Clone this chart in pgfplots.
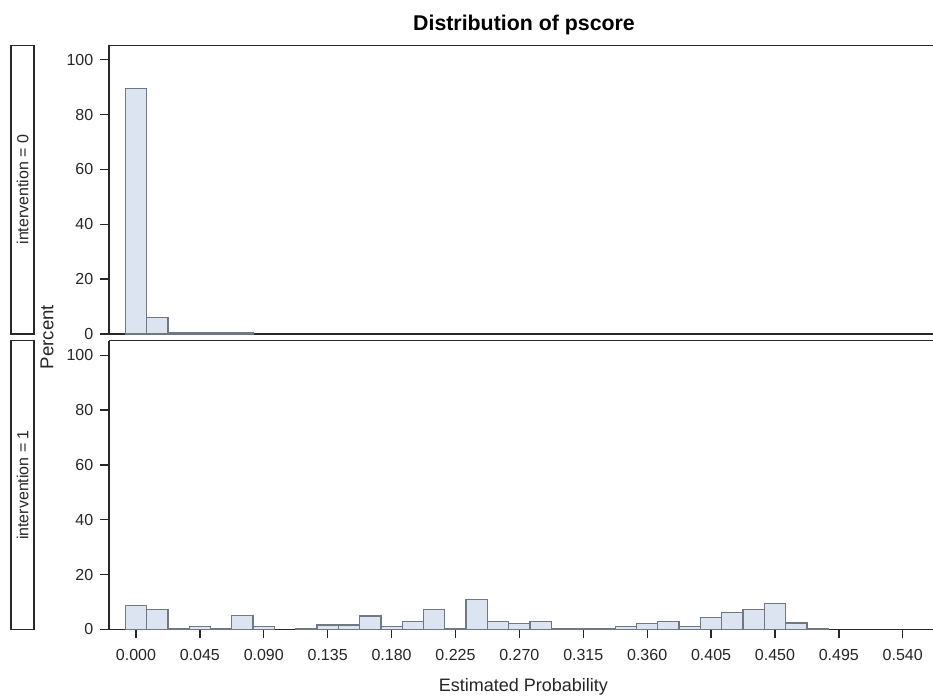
\documentclass[border=0pt]{standalone}
\usepackage{pgfplots}
\pgfplotsset{compat=1.18}
\usepackage{fontspec}
\setmainfont{Liberation Sans}
\definecolor{barfill}{RGB}{219,228,240}
\definecolor{baredge}{RGB}{112,120,130}
\definecolor{axcol}{RGB}{40,40,40}
\pgfplotsset{
  panel/.style={
    scale only axis,
    width=618pt, height=216.6pt,
    anchor=south west,
    xmin=-0.0190, xmax=0.5613,
    ymin=0, ymax=105.3,
    axis x line=box, axis y line=left,
    axis line style={-, axcol, line width=1pt},
    tick style={axcol, line width=1pt},
    tick align=outside,
    major tick length=6.75pt,
    ytick={0,20,40,60,80,100},
    ytick pos=left,
    xtick pos=bottom,
    /pgf/number format/assume math mode=true,
    ticklabel style={font=\fontsize{12}{14}\selectfont, text=black!85},
    yticklabel style={xshift=-1.5pt},
    xticklabel style={yshift=-4.5pt},
    clip=false,
  },
  hist/.style={ybar, bar width=0.015, bar shift=0pt, fill=barfill, draw=baredge, line width=1pt},
}
\begin{document}
\begin{tikzpicture}
\begin{axis}[panel, at={(81.75pt,271.5pt)}, xtick=\empty]
\addplot[hist] coordinates {
(0.000,89.6) (0.015,6.0) (0.030,0.5) (0.045,0.5) (0.060,0.5) (0.075,0.5)
};
\end{axis}
\begin{axis}[panel, at={(81.75pt,49.9pt)},
  xtick={0,0.045,0.09,0.135,0.18,0.225,0.27,0.315,0.36,0.405,0.45,0.495,0.54},
  xticklabels={0.000,0.045,0.090,0.135,0.180,0.225,0.270,0.315,0.360,0.405,0.450,0.495,0.540}]
\addplot[hist] coordinates {
(0.000,8.8) (0.015,7.3) (0.030,0.4) (0.045,1.2) (0.060,0.4) (0.075,5.1)
(0.090,1.2) (0.120,0.4) (0.135,1.6) (0.150,1.6) (0.165,4.9)
(0.180,1.2) (0.195,2.9) (0.210,7.2) (0.225,0.4) (0.240,10.9) (0.255,2.9)
(0.270,2.2) (0.285,2.9) (0.300,0.4) (0.315,0.4) (0.330,0.4) (0.345,1.2)
(0.360,2.2) (0.375,2.9) (0.390,1.2) (0.405,4.4) (0.420,6.2) (0.435,7.2)
(0.450,9.5) (0.465,2.3) (0.480,0.4)
};
\end{axis}
% strip labels
\draw[axcol, line width=1pt] (8.25pt,271.5pt) rectangle (25.5pt,488.1pt);
\draw[axcol, line width=1pt] (8.25pt,49.9pt) rectangle (25.5pt,266.5pt);
\node[rotate=90, font=\fontsize{12}{14}\selectfont, text=black!85] at (16.9pt,379.8pt) {intervention = 0};
\node[rotate=90, font=\fontsize{12}{14}\selectfont, text=black!85] at (16.9pt,158.2pt) {intervention = 1};
\node[rotate=90, font=\fontsize{14}{16}\selectfont, text=black!85] at (35.25pt,269.25pt) {Percent};
\node[anchor=base, font=\fontsize{16}{18}\selectfont\bfseries] at (393pt,499pt) {Distribution of pscore};
\node[anchor=base, font=\fontsize{13.5}{16}\selectfont, text=black!85] at (392.5pt,3pt) {Estimated Probability};
\pgfresetboundingbox
\path[use as bounding box] (0,0) rectangle (699.75pt,522pt);
\end{tikzpicture}
\end{document}
